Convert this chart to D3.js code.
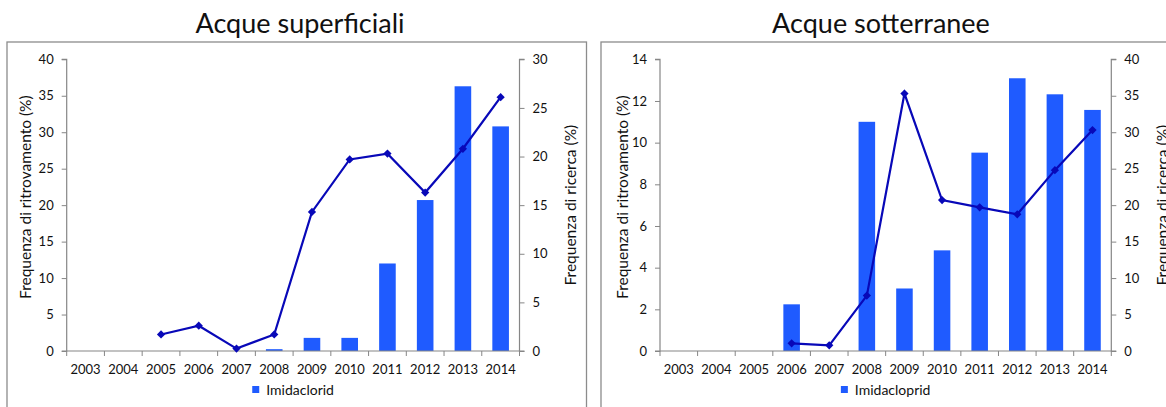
<!DOCTYPE html>
<html>
<head>
<meta charset="utf-8">
<script src="https://cdn.jsdelivr.net/npm/d3@7"></script>
<style>
  body { margin: 0; background: #fff; }
  svg { display: block; font-family: Lato, "Open Sans", sans-serif; }
</style>
</head>
<body>
<div id="chart"></div>
<script>
// years on the x axis
const years = ["2003", "2004", "2005", "2006", "2007", "2008", "2009", "2010", "2011", "2012", "2013", "2014"];

// acque superficiali
const surfDetection = [null, null, null, null, null, 0.25, 1.8, 1.8, 12.0, 20.7, 36.3, 30.8];
const surfResearch = [null, null, 1.7, 2.6, 0.25, 1.7, 14.3, 19.7, 20.3, 16.3, 20.8, 26.1];

// acque sotterranee
const groundDetection = [null, null, null, 2.24, null, 11.0, 3.0, 4.83, 9.52, 13.09, 12.32, 11.57];
const groundResearch = [null, null, null, 1.05, 0.78, 7.6, 35.3, 20.7, 19.7, 18.75, 24.8, 30.3];

const leftTicks1 = [0, 5, 10, 15, 20, 25, 30, 35, 40];
const rightTicks1 = [0, 5, 10, 15, 20, 25, 30];
const leftTicks2 = [0, 2, 4, 6, 8, 10, 12, 14];
const rightTicks2 = [0, 5, 10, 15, 20, 25, 30, 35, 40];

const width = 1166;
const height = 407;
const barColor = "#1f5bff";
const lineColor = "#0808b8";
const axisColor = "#868686";

const svg = d3.select("#chart")
  .append("svg")
  .attr("width", width)
  .attr("height", height);

const drawPanel = cfg => {
  const g = svg.append("g");

  // outer frame
  g.append("rect")
    .attr("x", cfg.frame[0] + 0.5)
    .attr("y", cfg.frame[1] + 0.5)
    .attr("width", cfg.frame[2])
    .attr("height", cfg.frame[3])
    .attr("fill", "none")
    .attr("stroke", "#8c8c8c")
    .attr("stroke-width", 1.3);

  const x = d3.scaleBand().domain(years).range([cfg.x0, cfg.x1]);
  const yL = d3.scaleLinear().domain([0, d3.max(cfg.leftTicks)]).range([cfg.yBottom, cfg.yTop]);
  const yR = d3.scaleLinear().domain([0, d3.max(cfg.rightTicks)]).range([cfg.yBottom, cfg.yTop]);

  // bars
  const bw = x.bandwidth() * 0.44;
  g.selectAll(".bar")
    .data(years.map((y, i) => ({ year: y, v: cfg.bars[i] })).filter(d => d.v != null))
    .enter()
    .append("rect")
    .attr("class", "bar")
    .attr("x", d => x(d.year) + x.bandwidth() / 2 - bw / 2)
    .attr("width", bw)
    .attr("y", d => yL(d.v))
    .attr("height", d => yL(0) - yL(d.v))
    .attr("fill", barColor);

  // axes
  const leftAxis = g.append("g")
    .attr("transform", `translate(${cfg.x0},0)`)
    .call(d3.axisLeft(yL).tickValues(cfg.leftTicks).tickSize(5).tickPadding(8));
  const rightAxis = g.append("g")
    .attr("transform", `translate(${cfg.x1},0)`)
    .call(d3.axisRight(yR).tickValues(cfg.rightTicks).tickSize(5).tickPadding(8));
  const bottomAxis = g.append("g")
    .attr("transform", `translate(0,${cfg.yBottom})`)
    .call(d3.axisBottom(x).tickSize(0).tickPadding(14));

  // x ticks sit on the category boundaries
  g.append("g")
    .selectAll("line")
    .data(years.concat(["end"]))
    .enter()
    .append("line")
    .attr("x1", (d, i) => cfg.x0 + i * x.step())
    .attr("x2", (d, i) => cfg.x0 + i * x.step())
    .attr("y1", cfg.yBottom)
    .attr("y2", cfg.yBottom + 5)
    .attr("stroke", axisColor);

  [leftAxis, rightAxis, bottomAxis].forEach(a => {
    a.selectAll(".domain").attr("stroke", axisColor).attr("stroke-width", 1.2);
    a.selectAll(".tick line").attr("stroke", axisColor);
    a.selectAll("text")
      .attr("fill", "#111")
      .style("font-family", "Lato, 'Open Sans', sans-serif")
      .style("font-size", "13px");
  });
  leftAxis.select(".domain").attr("d", `M-5,${cfg.yTop}H0V${cfg.yBottom}H-5`);
  rightAxis.select(".domain").attr("d", `M5,${cfg.yTop}H0V${cfg.yBottom}H5`);
  bottomAxis.select(".domain").attr("d", `M${cfg.x0},0H${cfg.x1}`);

  // line
  const pts = years.map((y, i) => ({ year: y, v: cfg.line[i] })).filter(d => d.v != null);
  const line = d3.line()
    .x(d => x(d.year) + x.bandwidth() / 2)
    .y(d => yR(d.v));
  g.append("path")
    .datum(pts)
    .attr("d", line)
    .attr("fill", "none")
    .attr("stroke", lineColor)
    .attr("stroke-width", 2.2);
  g.selectAll(".marker")
    .data(pts)
    .enter()
    .append("path")
    .attr("class", "marker")
    .attr("d", d3.symbol().type(d3.symbolSquare).size(34))
    .attr("transform", d => `translate(${x(d.year) + x.bandwidth() / 2},${yR(d.v)}) rotate(45)`)
    .attr("fill", lineColor);

  // titles
  g.append("text")
    .attr("x", cfg.titleX)
    .attr("y", 33)
    .attr("text-anchor", "middle")
    .attr("fill", "#111")
    .style("font-size", "27px")
    .text(cfg.title);

  g.append("text")
    .attr("transform", `translate(${cfg.leftTitleX},${(cfg.yTop + cfg.yBottom) / 2 - 8}) rotate(-90)`)
    .attr("text-anchor", "middle")
    .attr("dominant-baseline", "central")
    .attr("fill", "#111")
    .style("font-size", "15.5px")
    .text("Frequenza di ritrovamento (%)");

  g.append("text")
    .attr("transform", `translate(${cfg.rightTitleX},${(cfg.yTop + cfg.yBottom) / 2}) rotate(-90)`)
    .attr("text-anchor", "middle")
    .attr("dominant-baseline", "central")
    .attr("fill", "#111")
    .style("font-size", "15.5px")
    .text("Frequenza di ricerca (%)");

  // legend
  const legend = g.append("g");
  const lt = legend.append("text")
    .attr("x", 14)
    .attr("y", 395)
    .attr("fill", "#111")
    .style("font-size", "14px")
    .text(cfg.legend);
  const tw = lt.node().getComputedTextLength();
  legend.append("rect")
    .attr("x", 0)
    .attr("y", 386)
    .attr("width", 7)
    .attr("height", 7)
    .attr("fill", barColor);
  const cx = (cfg.x0 + cfg.x1) / 2;
  legend.attr("transform", `translate(${cx - (14 + tw) / 2},0)`);
};

drawPanel({
  frame: [6.5, 41.5, 579.5, 400],
  x0: 66.7, x1: 519.5, yTop: 59.3, yBottom: 351,
  bars: surfDetection, line: surfResearch,
  leftTicks: leftTicks1, rightTicks: rightTicks1,
  title: "Acque superficiali", titleX: 300,
  leftTitleX: 25, rightTitleX: 570,
  legend: "Imidaclorid"
});

drawPanel({
  frame: [600.5, 41.5, 600, 400],
  x0: 660, x1: 1111.3, yTop: 59.3, yBottom: 351,
  bars: groundDetection, line: groundResearch,
  leftTicks: leftTicks2, rightTicks: rightTicks2,
  title: "Acque sotterranee", titleX: 881,
  leftTitleX: 621.7, rightTitleX: 1162,
  legend: "Imidacloprid"
});
</script>
</body>
</html>
